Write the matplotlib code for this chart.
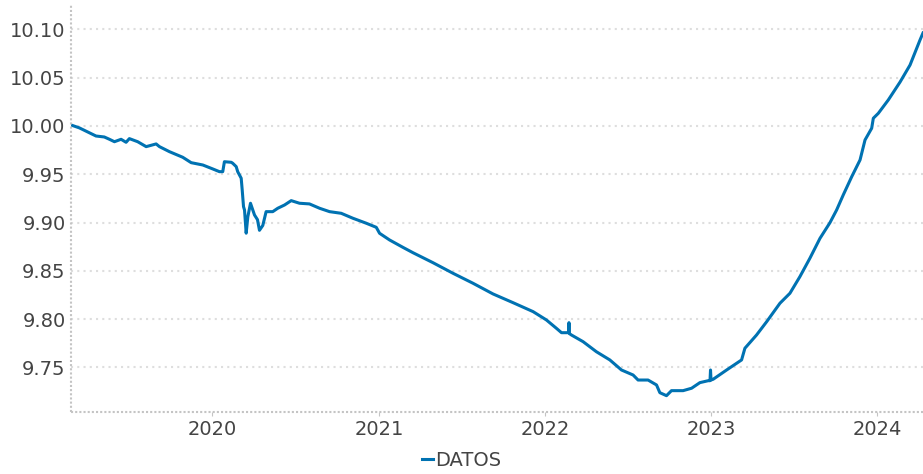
import matplotlib
matplotlib.use("Agg")
import matplotlib.pyplot as plt
import pandas as pd

# Fechas en años decimales
fecha_decimal = [
    2019.149, 2019.199, 2019.299, 2019.349, 2019.380, 2019.410, 2019.450, 2019.480,
    2019.500, 2019.550, 2019.601, 2019.661, 2019.681, 2019.741, 2019.821, 2019.872,
    2019.942, 2020.002, 2020.042, 2020.062, 2020.072, 2020.113, 2020.122, 2020.143,
    2020.152, 2020.173, 2020.179, 2020.187, 2020.193, 2020.203, 2020.213, 2020.229,
    2020.253, 2020.271, 2020.283, 2020.303, 2020.323, 2020.363, 2020.393, 2020.434,
    2020.474, 2020.524, 2020.584, 2020.645, 2020.705, 2020.775, 2020.845, 2020.926,
    2020.986, 2021.006, 2021.066, 2021.146, 2021.207, 2021.327, 2021.448, 2021.568,
    2021.689, 2021.809, 2021.930, 2022.010, 2022.070, 2022.101, 2022.143, 2022.146,
    2022.149, 2022.161, 2022.231, 2022.311, 2022.392, 2022.462, 2022.532, 2022.562,
    2022.622, 2022.673, 2022.693, 2022.733, 2022.763, 2022.833, 2022.884, 2022.934,
    2022.984, 2022.995, 2022.998, 2023.001, 2023.014, 2023.095, 2023.185, 2023.205,
    2023.275, 2023.336, 2023.416, 2023.476, 2023.536, 2023.596, 2023.657, 2023.717,
    2023.757, 2023.797, 2023.848, 2023.898, 2023.928, 2023.968, 2023.978, 2024.008,
    2024.038, 2024.068, 2024.139, 2024.199, 2024.259, 2024.277,
]
datos = [
    10.001, 9.998, 9.9896, 9.9886, 9.9862, 9.9837, 9.9862, 9.9831,
    9.9869, 9.9837, 9.9786, 9.9814, 9.9786, 9.9734, 9.9676, 9.9620,
    9.9596, 9.9555, 9.9527, 9.9527, 9.9630, 9.9624, 9.9614, 9.9579,
    9.9527, 9.9459, 9.9340, 9.9165, 9.9130, 9.8890, 9.9060, 9.9200,
    9.9079, 9.9030, 9.8920, 9.8970, 9.9113, 9.9113, 9.9148, 9.9182,
    9.9227, 9.9200, 9.9193, 9.9148, 9.9113, 9.9096, 9.9045, 9.8993,
    9.8951, 9.8889, 9.8820, 9.8744, 9.8688, 9.8585, 9.8475, 9.8372,
    9.8261, 9.8171, 9.8078, 9.7992, 9.7906, 9.7860, 9.7860, 9.7964,
    9.7850, 9.7836, 9.7767, 9.7663, 9.7578, 9.7474, 9.7422, 9.7370,
    9.7370, 9.7319, 9.7239, 9.7208, 9.7260, 9.7260, 9.7285, 9.7343,
    9.7363, 9.7363, 9.7474, 9.7370, 9.7378, 9.7474, 9.7578, 9.7699,
    9.7836, 9.7974, 9.8165, 9.8268, 9.8440, 9.8630, 9.8837, 9.8999,
    9.9130, 9.9286, 9.9475, 9.9648, 9.9855, 9.9976, 10.0080, 10.0131,
    10.0200, 10.0269, 10.0455, 10.0631, 10.0890, 10.0963,
]
yticks = [9.75, 9.80, 9.85, 9.90, 9.95, 10.00, 10.05, 10.10]
ytick_labels = ["9.75", "9.80", "9.85", "9.90", "9.95", "10.00", "10.05", "10.10"]
xtick_years = [2020, 2021, 2022, 2023, 2024]

fechas = [pd.Timestamp("2020-01-01") + pd.Timedelta(days=(f - 2020) * 365.25) for f in fecha_decimal]

fig = plt.figure(figsize=(9.23, 4.74), dpi=100)
ax = fig.add_axes([0.077, 0.131, 0.923, 0.858])

ax.plot(fechas, datos, color="#0072B2", linewidth=2.2, label="DATOS")

ax.set_xlim(fechas[0], fechas[-1])
ax.set_ylim(9.704, 10.125)
ax.set_yticks(yticks)
ax.set_yticklabels(ytick_labels)
ax.set_xticks([pd.Timestamp(f"{y}-01-01") for y in xtick_years])
ax.set_xticklabels([str(y) for y in xtick_years])

ax.grid(axis="y", color="#dedede", linestyle=(0, (1, 2)), linewidth=1.5)
ax.grid(axis="x", visible=False)
for s in ["top", "right"]:
    ax.spines[s].set_visible(False)
for s in ["left", "bottom"]:
    ax.spines[s].set_color("#c4c4c4")
    ax.spines[s].set_linestyle((0, (1, 1)))
    ax.spines[s].set_linewidth(1.5)
    ax.spines[s].set_capstyle("butt")

ax.tick_params(axis="y", length=0, labelsize=14, labelcolor="#444444", pad=4)
ax.tick_params(axis="x", length=3, color="#c4c4c4", labelsize=14, labelcolor="#444444", pad=3)

leg = fig.legend(loc="center", bbox_to_anchor=(0.5, 0.028), frameon=False,
                 handlelength=0.55, handletextpad=0.1, prop={"size": 14},
                 borderpad=0, borderaxespad=0)
for t in leg.get_texts():
    t.set_color("#444444")

fig.savefig("out.png", dpi=100)
